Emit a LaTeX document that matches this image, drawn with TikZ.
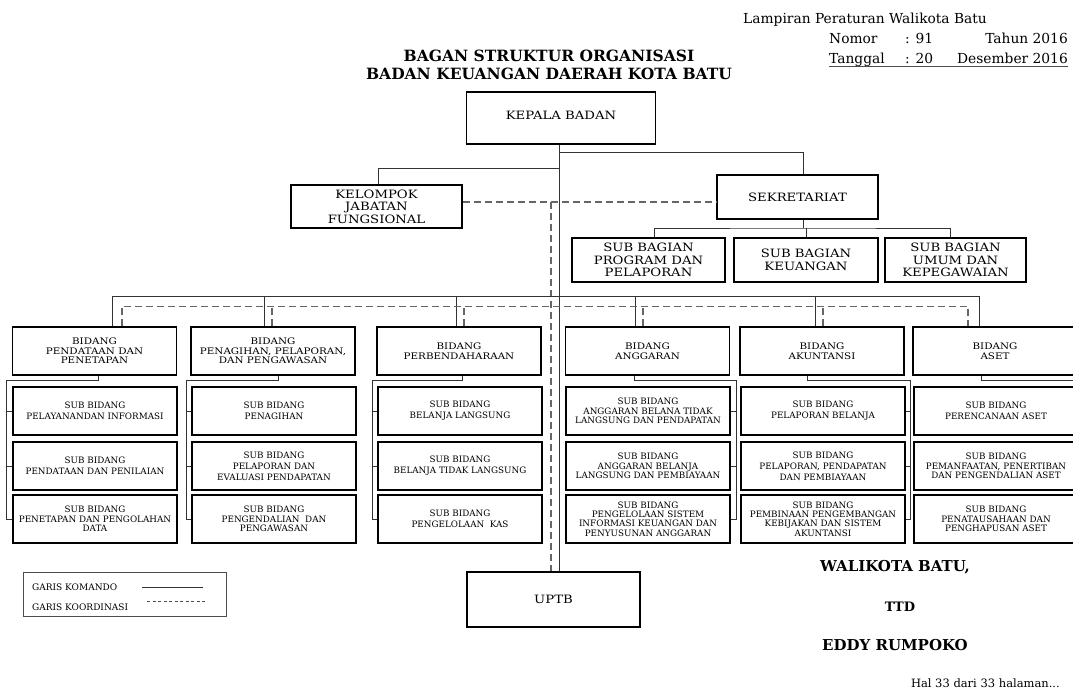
\documentclass[tikz,border=0pt]{standalone}
\usepackage{fontspec}
\setmainfont{DejaVu Serif}
\newfontfamily\lebarfont[FakeStretch=1.15]{DejaVu Serif}
\usetikzlibrary{positioning}

\begin{document}
\begin{tikzpicture}[x=1pt, y=-1pt,
  every node/.style={inner sep=0pt, align=center},
  teksatas/.style={font=\fontsize{13.8}{16}\selectfont},
  tebal/.style={font=\bfseries\fontsize{15}{18}\selectfont},
  kotak/.style={draw, line width=1.6pt,
    font=\lebarfont\fontsize{11.5}{12.5}\selectfont},
  bidang/.style={draw, line width=1.6pt, minimum width=164pt, minimum height=48pt,
    font=\lebarfont\fontsize{9}{9.5}\selectfont},
  subbidang/.style={draw, line width=1.6pt, minimum width=164pt, minimum height=48pt,
    font=\fontsize{8.8}{11}\selectfont},
  rapat/.style={font=\fontsize{8.8}{9.6}\selectfont},
  keterangan/.style={font=\fontsize{9}{10}\selectfont},
  komando/.style={draw=black!80, line width=0.8pt},
  koordinasi/.style={draw=black!60, line width=1.4pt, dash pattern=on 7pt off 4pt}]

  \useasboundingbox (0,0) rectangle (1073,691);

  \node[teksatas, anchor=base west] (lampiran) at (743,23) {Lampiran Peraturan Walikota Batu};
  \node[teksatas, anchor=base west] (nomor) at (829,43) {Nomor};
  \node[teksatas, anchor=base west] (nomorisi) at (905,43) {: 91};
  \node[teksatas, anchor=base east] (tahun) at (1068,43) {Tahun 2016};
  \node[teksatas, anchor=base west] (tanggal) at (829,63) {Tanggal};
  \node[teksatas, anchor=base west] (tanggalisi) at (905,63) {: 20};
  \node[teksatas, anchor=base east] (bulan) at (1068,63) {Desember 2016};
  \draw[black!70, line width=0.8pt] ([yshift=-3pt]tanggal.base west) -- ([yshift=-3pt]bulan.base east);

  \node[font=\bfseries\fontsize{15.5}{18}\selectfont] (judul) at (549,65)
    {BAGAN STRUKTUR ORGANISASI\\BADAN KEUANGAN DAERAH KOTA BATU};

  \node[kotak, minimum width=189pt, minimum height=52pt] (kepala) at (561,118) {\raisebox{6pt}{KEPALA BADAN}};
  \node[kotak, minimum width=171pt, minimum height=43pt] (jabfung) at (376.5,206.5) {KELOMPOK\\JABATAN\\FUNGSIONAL};
  \node[kotak, minimum width=161pt, minimum height=44pt] (sekret) at (797.5,197) {SEKRETARIAT};
  \node[kotak, minimum width=153pt, minimum height=44pt] (sb1) at (648.5,260) {SUB BAGIAN\\PROGRAM DAN\\PELAPORAN};
  \node[kotak, minimum width=144pt, minimum height=44pt] (sb2) at (806,260) {SUB BAGIAN\\KEUANGAN};
  \node[kotak, minimum width=141pt, minimum height=44pt] (sb3) at (955.5,260) {SUB BAGIAN\\UMUM DAN\\KEPEGAWAIAN};
  \node[kotak, minimum width=173pt, minimum height=55pt] (uptb) at (553.5,599.5) {UPTB};

  \node[bidang] (bid1) at (94.5,351) {BIDANG\\PENDATAAN DAN\\PENETAPAN};
  \node[bidang] (bid2) at (273,351) {BIDANG\\PENAGIHAN, PELAPORAN,\\DAN PENGAWASAN};
  \node[bidang] (bid3) at (459,351) {BIDANG\\PERBENDAHARAAN};
  \node[bidang] (bid4) at (647.5,351) {BIDANG\\ANGGARAN};
  \node[bidang] (bid5) at (822,351) {BIDANG\\AKUNTANSI};
  \node[bidang] (bid6) at (995,351) {BIDANG\\ASET};

  \node[subbidang] (s1a) at (95,411) {SUB BIDANG\\PELAYANANDAN INFORMASI};
  \node[subbidang] (s1b) at (95,466) {SUB BIDANG\\PENDATAAN DAN PENILAIAN};
  \node[subbidang, rapat] (s1c) at (95,519) {SUB BIDANG\\PENETAPAN DAN PENGOLAHAN\\DATA};
  \node[subbidang] (s2a) at (274,411) {SUB BIDANG\\PENAGIHAN};
  \node[subbidang] (s2b) at (274,466) {SUB BIDANG\\PELAPORAN DAN\\EVALUASI PENDAPATAN};
  \node[subbidang, rapat] (s2c) at (274,519) {SUB BIDANG\\PENGENDALIAN\ \ DAN\\PENGAWASAN};
  \node[subbidang] (s3a) at (460,411) {SUB BIDANG\\BELANJA LANGSUNG};
  \node[subbidang] (s3b) at (460,466) {SUB BIDANG\\BELANJA TIDAK LANGSUNG};
  \node[subbidang] (s3c) at (460,519) {SUB BIDANG\\PENGELOLAAN\ \ KAS};
  \node[subbidang, rapat] (s4a) at (648,411) {SUB BIDANG\\ANGGARAN BELANA TIDAK\\LANGSUNG DAN PENDAPATAN};
  \node[subbidang, rapat] (s4b) at (648,466) {SUB BIDANG\\ANGGARAN BELANJA\\LANGSUNG DAN PEMBIAYAAN};
  \node[subbidang, font=\fontsize{8.8}{9.2}\selectfont] (s4c) at (648,519) {SUB BIDANG\\PENGELOLAAN SISTEM\\INFORMASI KEUANGAN DAN\\PENYUSUNAN ANGGARAN};
  \node[subbidang] (s5a) at (823,411) {SUB BIDANG\\PELAPORAN BELANJA};
  \node[subbidang] (s5b) at (823,466) {SUB BIDANG\\PELAPORAN, PENDAPATAN\\DAN PEMBIAYAAN};
  \node[subbidang, font=\fontsize{8.8}{9.2}\selectfont] (s5c) at (823,519) {SUB BIDANG\\PEMBINAAN PENGEMBANGAN\\KEBIJAKAN DAN SISTEM\\AKUNTANSI};
  \node[subbidang] (s6a) at (996,411) {SUB BIDANG\\PERENCANAAN ASET};
  \node[subbidang, rapat] (s6b) at (996,466) {SUB BIDANG\\PEMANFAATAN, PENERTIBAN\\DAN PENGENDALIAN ASET};
  \node[subbidang, rapat] (s6c) at (996,519) {SUB BIDANG\\PENATAUSAHAAN DAN\\PENGHAPUSAN ASET};

  \coordinate (poros) at (559,152);
  \coordinate (cabang) at (559,168);
  \coordinate (putus) at (551,202);
  \coordinate (garissb) at (803,228);

  \draw[komando] (kepala.south -| poros) -- (uptb.north -| poros);
  \draw[komando] (poros) -| ([xshift=5.5pt]sekret.north);
  \draw[komando] (cabang) -| ([xshift=1.5pt]jabfung.north);
  \draw[komando] (sekret.south -| garissb) -- (garissb);
  \draw[komando] ([xshift=5.5pt]sb1.north) |- (garissb) -| ([xshift=-5.5pt]sb3.north);
  \draw[komando] (sb2.north) -- (sb2.north |- garissb);
  \draw[koordinasi] (jabfung.east |- putus) -- (sekret.west |- putus);
  \draw[koordinasi] (putus) -- (uptb.north -| putus);

  \draw[komando] ([xshift=17.5pt]bid1.north) -- ++(0,-30) -| ([xshift=-16pt]bid6.north);
  \foreach \b/\geser in {2/-9, 3/-3, 4/-12.5, 5/-7}
    \draw[komando] ([xshift=\geser pt]bid\b.north) -- ++(0,-30);
  \draw[koordinasi] ([xshift=27.5pt]bid1.north) -- ++(0,-20) -| ([xshift=-27pt]bid6.north);
  \foreach \b/\geser in {2/-1, 3/5, 4/-4.5, 5/1}
    \draw[koordinasi] ([xshift=\geser pt]bid\b.north) -- ++(0,-20);

  \foreach \kol/\geser/\sisi/\rel in {1/3.5/west/-6, 2/5/west/-5, 3/3/west/-5,
      4/-13.5/east/6, 5/-15/east/5, 6/-14/east/6} {
    \draw[komando] ([xshift=\geser pt]bid\kol.south) -- ++(0,5)
      -| ([xshift=\rel pt]s\kol c.\sisi) -- (s\kol c.\sisi);
    \draw[komando] (s\kol a.\sisi) -- ++(\rel,0);
    \draw[komando] (s\kol b.\sisi) -- ++(\rel,0);
  }

  \node[draw=black!70, line width=1pt, minimum width=203pt, minimum height=44pt] (legenda) at (124.5,594) {};
  \node[keterangan, anchor=west] (lkomando) at (32,587) {GARIS KOMANDO};
  \node[keterangan, anchor=west] (lkoord) at (32,607) {GARIS KOORDINASI};
  \draw[komando] (142,587) -- (203,587);
  \draw[black!70, line width=0.8pt, dash pattern=on 3pt off 2.5pt] (147,601) -- (207,601);

  \node[tebal] (walikota) at (895,567) {WALIKOTA BATU,};
  \node[font=\bfseries\fontsize{13}{15}\selectfont] (ttd) at (900,607) {TTD};
  \node[tebal] (nama) at (895,645) {EDDY RUMPOKO};
  \node[anchor=east, font=\fontsize{11.5}{13}\selectfont] (halaman) at (1060,683) {Hal 33 dari 33 halaman...};
\end{tikzpicture}
\end{document}
